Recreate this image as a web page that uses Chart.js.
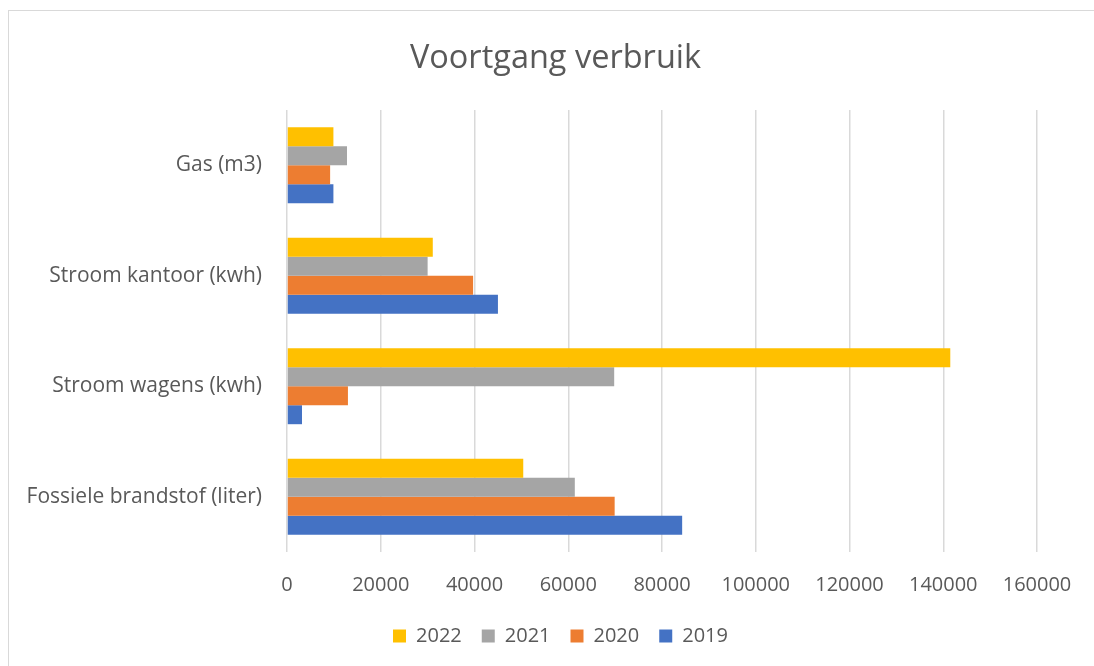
<!DOCTYPE html>
<html>
<head>
<meta charset="utf-8">
<script src="https://cdn.jsdelivr.net/npm/chart.js@4"></script>
<style>
  html, body { margin: 0; padding: 0; background: #fff; }
  #wrap { position: relative; width: 1094px; height: 666px; }
  #frame {
    position: absolute; left: 8px; top: 10px; right: -2px; bottom: -2px;
    border: 1px solid #d9d9d9; pointer-events: none;
  }
</style>
</head>
<body>
<div id="wrap">
  <canvas id="chart" width="1094" height="666"></canvas>
  <div id="frame"></div>
</div>
<script>
// Categories (top to bottom) and series values
const categories = ['Gas (m3)', 'Stroom kantoor (kwh)', 'Stroom wagens (kwh)', 'Fossiele brandstof (liter)'];
const years = ['2022', '2021', '2020', '2019'];
const v2022 = [9900, 31100, 141500, 50400];
const v2021 = [12800, 30000, 69800, 61400];
const v2020 = [9200, 39700, 13000, 69900];
const v2019 = [9900, 45000, 3200, 84300];
const xTicks = [0, 20000, 40000, 60000, 80000, 100000, 120000, 140000, 160000];

const COLORS = {
  yellow: '#FFC000',
  gray:   '#A5A5A5',
  orange: '#ED7D31',
  blue:   '#4472C4',
  text:   '#595959',
  grid:   '#d9d9d9',
};

const FONT = "'Open Sans', 'Liberation Sans', sans-serif";
Chart.defaults.font.family = FONT;
Chart.defaults.color = COLORS.text;

const series = [v2022, v2021, v2020, v2019];
const fills = [COLORS.yellow, COLORS.gray, COLORS.orange, COLORS.blue];

// Title and legend sit centred on the whole frame, not on the plot; nudge them
const nudgeBlocks = {
  id: 'nudgeBlocks',
  afterLayout(chart) {
    const t = chart.titleBlock, l = chart.legend;
    if (t) { t.left += 37; t.right += 37; }
    if (l) { l.left += 42; l.right += 42; }
  }
};

new Chart(document.getElementById('chart'), {
  type: 'bar',
  data: {
    labels: categories,
    datasets: years.map((y, i) => ({
      label: y,
      data: series[i],
      backgroundColor: fills[i],
      borderWidth: 0,
      categoryPercentage: 0.687,
      barPercentage: 1.0,
    }))
  },
  plugins: [nudgeBlocks],
  options: {
    indexAxis: 'y',
    responsive: false,
    animation: false,
    layout: { padding: { left: 0, right: 57, top: 0, bottom: 10 } },
    plugins: {
      title: {
        display: true,
        text: 'Voortgang verbruik',
        font: { size: 32.5, weight: 'normal' },
        color: COLORS.text,
        padding: { top: 39, bottom: 32 },
      },
      legend: {
        position: 'bottom',
        labels: {
          boxWidth: 13,
          boxHeight: 13,
          padding: 20,
          font: { size: 20 },
          color: COLORS.text,
        }
      },
      tooltip: { enabled: false }
    },
    scales: {
      x: {
        min: 0,
        max: 160000,
        afterBuildTicks: (scale) => { scale.ticks = xTicks.map(v => ({ value: v })); },
        afterFit: (scale) => { scale.height = 54; },
        ticks: {
          padding: 21,
          font: { size: 20 },
          color: COLORS.text,
          maxRotation: 0,
          callback: (v) => String(v),
        },
        grid: { color: COLORS.grid, lineWidth: 1.5, drawTicks: false },
        border: { display: false },
      },
      y: {
        afterFit: (scale) => { scale.width = 287; },
        ticks: {
          padding: 25,
          font: { size: 21 },
          color: COLORS.text,
        },
        grid: { display: false, drawTicks: false },
        border: { display: false },
      }
    }
  }
});
</script>
</body>
</html>
